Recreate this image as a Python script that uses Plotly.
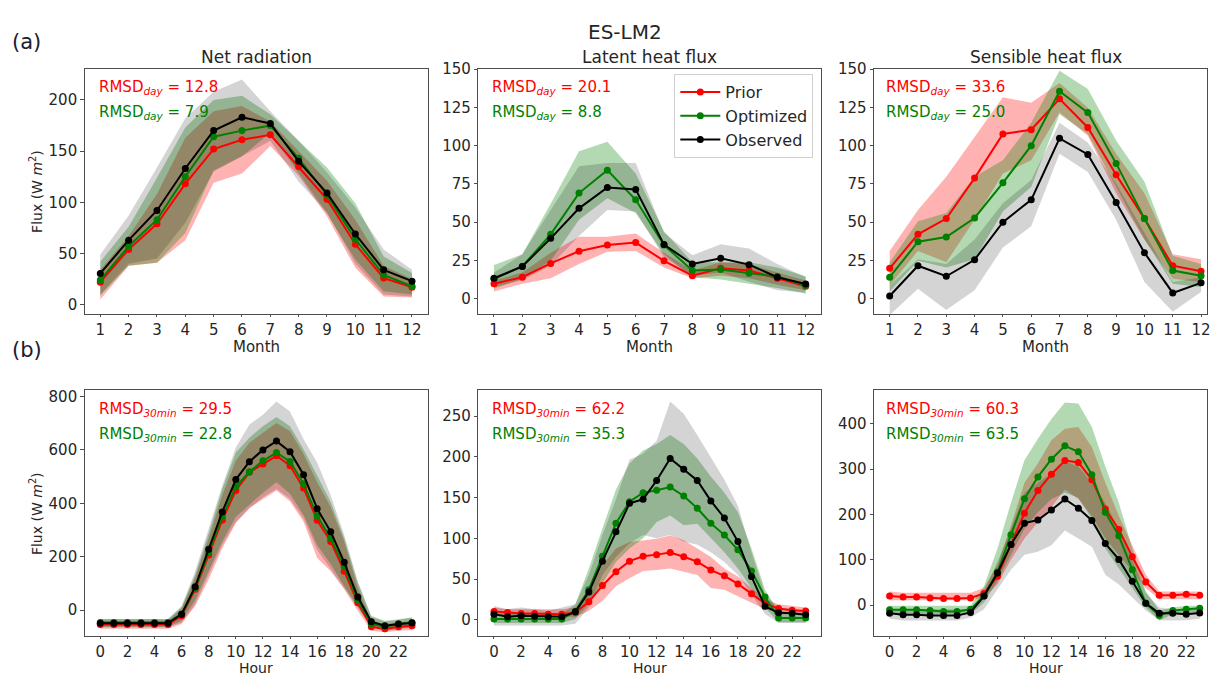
import plotly.graph_objects as go

W, H = 1211, 676

months = list(range(1, 13))
hours = list(range(0, 24))

# ---------------- Monthly (row a) ----------------
# Net radiation
nr_m_obs = [30.5, 63, 92, 133, 170, 183, 177, 140, 109, 69, 34, 23]
nr_m_opt = [24, 57, 83, 125, 164, 170, 175, 143, 107, 64, 29, 18]
nr_m_pri = [22, 54, 79, 118, 152, 161, 166, 135, 103, 59, 26, 17]
nr_m_obs_hi = [49, 87, 134, 182, 208, 220, 189, 160, 129, 95, 54, 34]
nr_m_obs_lo = [10, 40, 45, 80, 130, 145, 160, 120, 90, 40, 10, 8]
nr_m_opt_hi = [42, 76, 124, 173, 200, 204, 186, 160, 134, 99, 47, 31]
nr_m_opt_lo = [9, 38, 41, 70, 131, 145, 168, 128, 89, 44, 13, 10]
nr_m_pri_hi = [34, 67, 108, 163, 189, 194, 179, 150, 121, 83, 38, 25]
nr_m_pri_lo = [5, 38, 41, 63, 119, 128, 155, 126, 86, 36, 8, 7]

# Latent heat flux
le_m_obs = [13.3, 21, 39.4, 59, 72.7, 71.4, 35.3, 22.6, 26.3, 22.2, 14, 9.5]
le_m_opt = [13, 21, 42, 69, 84, 64.6, 35, 18.3, 19, 16.6, 14.4, 8.6]
le_m_pri = [9.7, 14, 23, 31, 35, 36.6, 24.7, 15, 19.8, 18.3, 13.3, 8]
le_m_obs_hi = [17, 29, 58, 86.5, 88.7, 88.7, 43, 28.4, 35.5, 32.7, 22.6, 14]
le_m_obs_lo = [7.5, 12, 21.5, 41, 58, 57, 27, 15, 17, 11, 5.4, 4]
le_m_opt_hi = [22, 29, 62, 96.4, 102.6, 81.8, 44, 23.7, 23.7, 23.7, 20.4, 14.6]
le_m_opt_lo = [6.5, 13, 24.7, 51.6, 65.6, 56, 29, 14, 12.5, 9.7, 7, 3.2]
le_m_pri_hi = [11.8, 17, 30, 40.5, 40.5, 42.6, 30, 18.3, 23.7, 22.6, 17, 11.8]
le_m_pri_lo = [4.7, 9.7, 13.3, 22.6, 30.6, 31.2, 20.4, 13.3, 15, 13.3, 9, 5.4]

# Sensible heat flux
h_m_obs = [1.7, 21.5, 14.6, 25.4, 50, 64.6, 104.8, 94.3, 62.8, 30, 3.7, 10.3]
h_m_opt = [14, 37.2, 40.2, 52.7, 75.7, 100, 135.6, 121.6, 88.4, 52.3, 18.3, 15]
h_m_pri = [19.8, 42, 52.3, 78.8, 107.6, 110.4, 130.6, 111.9, 81, 52.3, 21.5, 17.9]
h_m_obs_hi = [8.6, 25.8, 22.6, 38.7, 62.4, 77.5, 115, 102, 75.3, 43, 10.8, 14]
h_m_obs_lo = [-10.8, 6.5, -7.5, 5.4, 33.4, 47.3, 94.7, 82.8, 51.6, 10.8, -8.6, 4.3]
h_m_opt_hi = [23.7, 50.6, 56, 79.6, 90.4, 115, 148.9, 137, 103.3, 76.4, 28, 22.6]
h_m_opt_lo = [4.7, 24.7, 20.4, 25.8, 57, 73, 120.5, 107.6, 73, 38.7, 9.7, 7.5]
h_m_pri_hi = [31.2, 58, 79.6, 105.4, 131.7, 128, 141, 124.8, 94.7, 68.9, 29, 25.8]
h_m_pri_lo = [8.6, 31.2, 23.7, 51.6, 81.8, 90.4, 121.6, 106.5, 68.9, 38.7, 12.9, 10.8]

# ---------------- Diurnal (row b) ----------------
nr_h_obs = [-49, -49, -49, -49, -49, -49, -15, 88, 228, 368, 489, 556, 600, 633, 593, 507, 380, 294, 179, 49, -43, -58, -52, -48]
nr_h_opt = [-46, -46, -46, -46, -46, -46, -15, 84, 216, 349, 463, 518, 559, 590, 557, 473, 353, 269, 163, 37, -52, -62, -52, -46]
nr_h_pri = [-54, -54, -54, -54, -54, -54, -21, 78, 207, 337, 448, 516, 547, 578, 541, 457, 337, 257, 146, 28, -62, -70, -62, -58]
nr_h_obs_hi = [-33, -33, -33, -33, -33, -33, 16, 146, 306, 467, 609, 695, 732, 781, 744, 640, 553, 430, 281, 109, -21, -40, -33, -27]
nr_h_obs_lo = [-64, -64, -64, -64, -64, -64, -46, 22, 133, 244, 331, 380, 423, 454, 417, 343, 226, 158, 84, 10, -62, -77, -70, -64]
nr_h_opt_hi = [-33, -33, -33, -33, -33, -33, 12, 133, 288, 454, 590, 646, 689, 723, 689, 602, 504, 405, 269, 102, -25, -42, -37, -27]
nr_h_opt_lo = [-62, -62, -62, -62, -62, -62, -40, 37, 146, 257, 349, 395, 440, 479, 436, 356, 244, 173, 90, 12, -64, -77, -70, -64]
nr_h_pri_hi = [-40, -40, -40, -40, -40, -40, 4, 121, 269, 430, 559, 627, 664, 701, 670, 584, 479, 386, 257, 84, -40, -52, -46, -40]
nr_h_pri_lo = [-70, -70, -70, -70, -70, -70, -52, 16, 115, 232, 325, 383, 417, 448, 407, 331, 195, 146, 78, -2, -77, -83, -77, -74]

le_h_obs = [6.9, 3.6, 4.8, 4.4, 3.6, 3.6, 9.7, 34, 72, 108, 143, 148, 171, 198, 185, 171, 146, 125, 96, 53, 16.5, 8.5, 8, 6]
le_h_opt = [0.8, 0.8, 0.8, 0.8, 0.8, 0.8, 10, 37, 78, 118.5, 145, 156, 159, 163, 152, 137, 118.5, 104, 86, 60, 28, 2, 2, 2]
le_h_pri = [10, 9, 7.7, 7.7, 6.9, 6.9, 8.9, 22, 42, 59, 72, 78, 80, 82.7, 77.4, 71.4, 61, 54, 44, 32, 20, 13.7, 11.7, 10.9]
le_h_obs_hi = [17, 13, 15, 13, 11, 15, 19, 55, 104, 148, 197, 204, 220, 268, 253, 227, 200, 172, 140, 83, 31, 15, 13, 11]
le_h_obs_lo = [-7, -7, -7, -7, -7, -7, -5, 15, 55, 77, 94, 104, 100, 104, 96, 92, 83, 71, 55, 31, 7, -4, -4, -4]
le_h_opt_hi = [7.7, 7.7, 7.7, 7.7, 7.7, 7.7, 19, 63, 112, 160, 192, 208, 216, 227, 216, 198, 176, 156, 132, 87.5, 37, 9, 7, 7]
le_h_opt_lo = [-4, -4, -4, -4, -4, -4, 1, 19, 45, 71, 87.5, 100, 120, 128, 116, 118, 100, 83, 63, 39, 15, -3, -3, -3]
le_h_pri_hi = [15, 13, 13, 13, 13, 13, 15, 37, 67, 87.5, 95.6, 97.6, 99.6, 103.6, 97.6, 87.5, 77, 63, 53, 39, 25, 19, 17, 15]
le_h_pri_lo = [5, 5, 5, 5, 5, 5, 3, 11, 23, 41, 51, 60, 61, 63, 59, 55, 39, 37, 29, 21, 13, 9, 7.7, 7]

h_h_obs = [-18, -21, -21, -23, -23, -23, -16, 20, 71, 134, 181, 188, 210, 234, 214, 187, 136, 101, 53, 4, -18, -18, -20, -17]
h_h_opt = [-10, -10, -10, -12, -14, -14, -9, 20, 73, 155.5, 235, 283, 322, 351.5, 338.5, 288, 205, 153, 78, 4, -23, -12, -9, -7]
h_h_pri = [20, 18, 18, 16, 14.5, 14.5, 16, 26, 64, 134, 203, 253, 289, 319, 315, 277, 212, 167, 107, 51, 22, 22, 24, 22]
h_h_obs_hi = [-9, -9, -9, -9, -9, -9, -9, 31, 96, 168, 248, 270, 291, 317, 306, 270, 226, 168, 100, 27, -5, -9, -9, -5]
h_h_obs_lo = [-30, -34, -34, -34, -34, -34, -27, -9, 35, 78, 111, 118, 132, 165, 147, 129, 67, 45.6, 17, -12, -33, -34, -33, -30]
h_h_opt_hi = [-1.4, -1.4, -1.4, -1.4, -1.4, -1.4, -1.4, 42, 125, 226, 320, 367, 411, 447, 445, 393, 306, 226, 125, 31, -12, -5, -1.4, -1.4]
h_h_opt_lo = [-20, -20, -20, -20, -20, -20, -20, 6, 53, 111, 168.5, 205, 234, 248, 237, 190, 125, 82, 38, -5, -34, -20, -16, -16]
h_h_pri_hi = [30, 27.5, 27.5, 27.5, 27.5, 27.5, 27.5, 38, 89, 176, 270, 313, 364, 389, 393, 349, 270, 197, 132, 67, 30, 30, 30, 30]
h_h_pri_lo = [11, 11, 11, 11, 11, 11, 11, 17, 46, 100, 147, 183, 216, 255, 234, 197, 147, 111, 74.5, 38, 13, 13, 13, 13]

panel_titles = ["Net radiation", "Latent heat flux", "Sensible heat flux"]
rmsd_day_prior = ["12.8", "20.1", "33.6"]
rmsd_day_opt = ["7.9", "8.8", "25.0"]
rmsd_30_prior = ["29.5", "62.2", "60.3"]
rmsd_30_opt = ["22.8", "35.3", "63.5"]
series_names = ["Prior", "Optimized", "Observed"]
month_ticks = months
hour_ticks = list(range(0, 24, 2))

LINE_COL = {"Prior": "#ff0000", "Optimized": "#008000", "Observed": "#000000"}
BAND_COL = {"Prior": "rgba(255,0,0,0.3)", "Optimized": "rgba(0,128,0,0.3)", "Observed": "rgba(0,0,0,0.17)"}

panels = [
    (months, {"Prior": (nr_m_pri, nr_m_pri_lo, nr_m_pri_hi), "Optimized": (nr_m_opt, nr_m_opt_lo, nr_m_opt_hi), "Observed": (nr_m_obs, nr_m_obs_lo, nr_m_obs_hi)}),
    (months, {"Prior": (le_m_pri, le_m_pri_lo, le_m_pri_hi), "Optimized": (le_m_opt, le_m_opt_lo, le_m_opt_hi), "Observed": (le_m_obs, le_m_obs_lo, le_m_obs_hi)}),
    (months, {"Prior": (h_m_pri, h_m_pri_lo, h_m_pri_hi), "Optimized": (h_m_opt, h_m_opt_lo, h_m_opt_hi), "Observed": (h_m_obs, h_m_obs_lo, h_m_obs_hi)}),
    (hours, {"Prior": (nr_h_pri, nr_h_pri_lo, nr_h_pri_hi), "Optimized": (nr_h_opt, nr_h_opt_lo, nr_h_opt_hi), "Observed": (nr_h_obs, nr_h_obs_lo, nr_h_obs_hi)}),
    (hours, {"Prior": (le_h_pri, le_h_pri_lo, le_h_pri_hi), "Optimized": (le_h_opt, le_h_opt_lo, le_h_opt_hi), "Observed": (le_h_obs, le_h_obs_lo, le_h_obs_hi)}),
    (hours, {"Prior": (h_h_pri, h_h_pri_lo, h_h_pri_hi), "Optimized": (h_h_opt, h_h_opt_lo, h_h_opt_hi), "Observed": (h_h_obs, h_h_obs_lo, h_h_obs_hi)}),
]

# layout geometry (pixels)
col_x = [(85, 429), (480, 824), (877, 1211)]
row_y = [(61, 309), (386.5, 635)]
xranges = [[0.45, 12.55], [0.45, 12.55], [0.45, 12.21], [-1.15, 24.15], [-1.15, 24.15], [-1.15, 23.54]]
yranges = [[-9, 230], [-10, 150], [-10, 150], [-95, 823], [-19.4, 281.8], [-67, 474]]
ytickvals = [[0, 50, 100, 150, 200], [0, 25, 50, 75, 100, 125, 150], [0, 25, 50, 75, 100, 125, 150],
             [0, 200, 400, 600, 800], [0, 50, 100, 150, 200, 250], [0, 100, 200, 300, 400]]

def px(x):
    return x / W

def py(y):
    return 1 - y / H

FONT = "DejaVu Sans"
TXT = "#262626"
AX = "#4d4d4d"

fig = go.Figure()
layout = dict(
    width=W, height=H, margin=dict(l=0, r=0, t=0, b=0, pad=0),
    paper_bgcolor="white", plot_bgcolor="white",
    font=dict(family=FONT, size=14, color=TXT),
    showlegend=True,
    legend=dict(x=px(816), y=py(66), xanchor="right", yanchor="top",
                bgcolor="rgba(255,255,255,0.85)", bordercolor="#d0d0d0", borderwidth=1,
                font=dict(family=FONT, size=16, color=TXT), tracegroupgap=0,
                itemwidth=40),
)
annotations = []

for i, (xs, data) in enumerate(panels):
    r, c = divmod(i, 3)
    k = i + 1
    xa = "x" if k == 1 else f"x{k}"
    ya = "y" if k == 1 else f"y{k}"
    xkey = "xaxis" if k == 1 else f"xaxis{k}"
    ykey = "yaxis" if k == 1 else f"yaxis{k}"
    layout[xkey] = dict(domain=[px(col_x[c][0]), px(col_x[c][1])], anchor=ya, range=xranges[i],
                        tickmode="array", tickvals=(month_ticks if r == 0 else hour_ticks),
                        showgrid=False, zeroline=False, showline=True, mirror=True,
                        linecolor=AX, linewidth=1, ticks="outside", ticklen=2.5, tickcolor=AX,
                        ticklabeloverflow="allow",
                        tickfont=dict(size=15, color=TXT, family=FONT))
    layout[ykey] = dict(domain=[py(row_y[r][1]), py(row_y[r][0])], anchor=xa, range=yranges[i],
                        tickmode="array", tickvals=ytickvals[i],
                        showgrid=False, zeroline=False, showline=True, mirror=True,
                        linecolor=AX, linewidth=1, ticks="outside", ticklen=3.5, tickcolor=AX,
                        tickfont=dict(size=15, color=TXT, family=FONT))
    for name in series_names:
        m, lo, hi = data[name]
        fig.add_trace(go.Scatter(x=list(xs) + list(xs)[::-1], y=list(hi) + list(lo)[::-1],
                                 fill="toself", fillcolor=BAND_COL[name], line=dict(width=0),
                                 mode="lines", hoverinfo="skip", showlegend=False, xaxis=xa, yaxis=ya))
    for name in series_names:
        m, lo, hi = data[name]
        fig.add_trace(go.Scatter(x=xs, y=m, mode="lines+markers", name=name,
                                 line=dict(color=LINE_COL[name], width=2),
                                 marker=dict(color=LINE_COL[name], size=7),
                                 showlegend=(i == 1), xaxis=xa, yaxis=ya))
    sub = "day" if r == 0 else "30min"
    vals_p = rmsd_day_prior if r == 0 else rmsd_30_prior
    vals_o = rmsd_day_opt if r == 0 else rmsd_30_opt
    tx = [97, 492, 887][c]
    ty0 = [80, 406][r]
    annotations.append(dict(x=px(tx), y=py(ty0), xref="paper", yref="paper", xanchor="left", yanchor="middle",
                            text=f"RMSD<sub><i>{sub}</i></sub> = {vals_p[c]}", showarrow=False,
                            font=dict(size=15, color="#ff0000", family=FONT)))
    annotations.append(dict(x=px(tx), y=py(ty0 + 25), xref="paper", yref="paper", xanchor="left", yanchor="middle",
                            text=f"RMSD<sub><i>{sub}</i></sub> = {vals_o[c]}", showarrow=False,
                            font=dict(size=15, color="#008000", family=FONT)))
    cx = [257, 652, 1049][c]
    annotations.append(dict(x=px(cx), y=py([343, 667.5][r]), xref="paper", yref="paper", xanchor="center", yanchor="middle",
                            text=("Month" if r == 0 else "Hour"), showarrow=False, borderpad=0,
                            font=dict(size=(15 if r == 0 else 14), color=TXT, family=FONT)))
    if r == 0:
        annotations.append(dict(x=px(cx), y=py(49), xref="paper", yref="paper", xanchor="center", yanchor="middle",
                                text=panel_titles[c], showarrow=False, font=dict(size=17, color=TXT, family=FONT)))
    if c == 0:
        annotations.append(dict(x=px(36), y=py([184.5, 511][r]), xref="paper", yref="paper", xanchor="center", yanchor="middle",
                                text="Flux (W <i>m</i><sup>2</sup>)", textangle=-90, showarrow=False,
                                font=dict(size=14, color=TXT, family=FONT)))

annotations.append(dict(x=px(627), y=py(23), xref="paper", yref="paper", xanchor="center", yanchor="middle",
                        text="ES-LM2", showarrow=False, font=dict(size=20, color=TXT, family=FONT)))
annotations.append(dict(x=px(27), y=py(33), xref="paper", yref="paper", xanchor="center", yanchor="middle",
                        text="(a)", showarrow=False, font=dict(size=21, color="#1a2030", family=FONT)))
annotations.append(dict(x=px(27), y=py(346), xref="paper", yref="paper", xanchor="center", yanchor="middle",
                        text="(b)", showarrow=False, font=dict(size=21, color="#1a2030", family=FONT)))

layout["annotations"] = annotations
fig.update_layout(**layout)
css_js = ("var s=document.createElement('style');"
          "s.innerHTML='html,body{margin:0!important;padding:0!important;overflow:hidden;width:1211px;height:676px;}';"
          "document.head.appendChild(s);")
fig.write_html("out.html", config={"displayModeBar": False}, post_script=css_js)
